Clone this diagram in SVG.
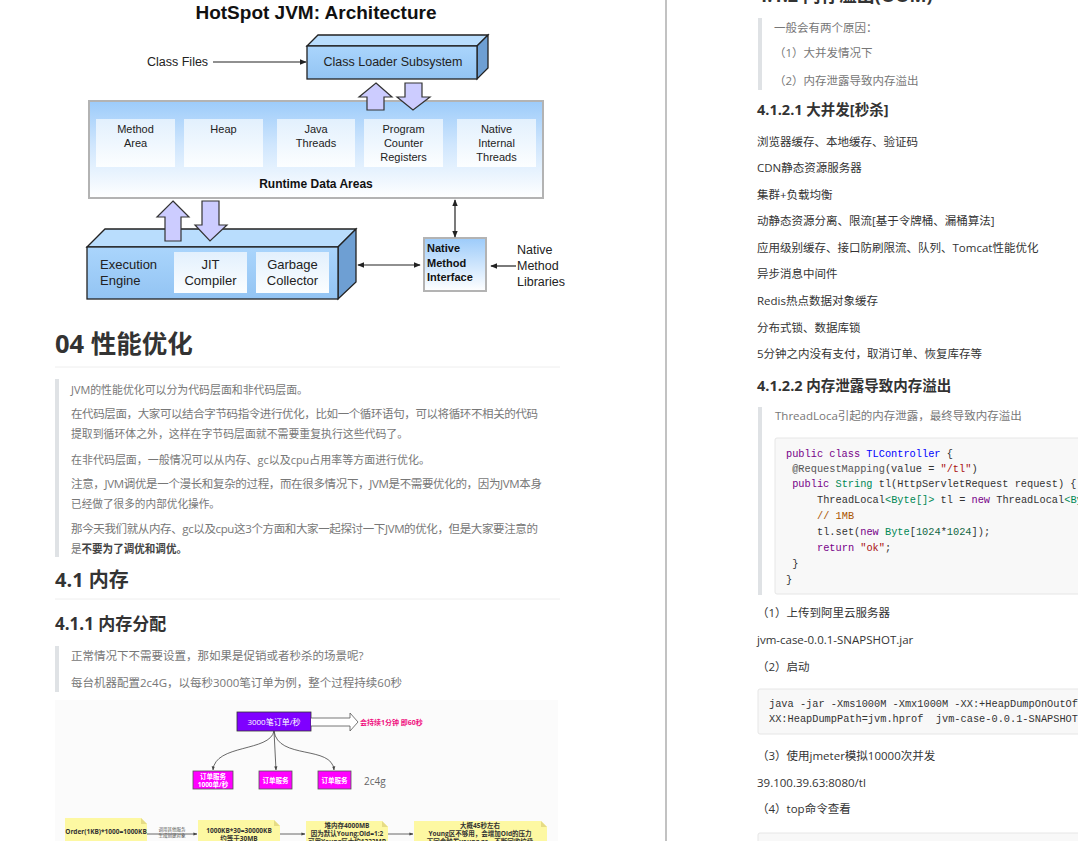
<svg xmlns="http://www.w3.org/2000/svg" width="1078" height="841" viewBox="0 0 1078 841">
<defs>
<style>
.sans{font-family:"Liberation Sans",Arial,sans-serif}
.cn{font-family:"Open Sans","Noto Sans CJK SC",sans-serif}
.mono{font-family:"Liberation Mono","DejaVu Sans Mono",monospace;font-size:10.3px;fill:#333;white-space:pre}
.h{font-weight:bold;fill:#333}
.body{font-size:11.5px;fill:#333}
.quote{font-size:11.5px;fill:#777}
.bar{fill:#dfe2e5}
.box3d{stroke:#222;stroke-width:1.3}
.hollow{fill:#ccccff;stroke:#333;stroke-width:1.2}
.ln{fill:none;stroke:#222;stroke-width:1.2}
.thin{fill:none;stroke:#444;stroke-width:0.8}
.note{fill:#fdf8a2}
.fold{fill:#e6dc85}
.nt{font-size:6.5px;fill:#333;font-weight:bold;text-anchor:middle}
.kw{fill:#708}.df{fill:#00f}.ty{fill:#085}.st{fill:#a11}.cm{fill:#a50}.mt{fill:#555}.nm{fill:#164}
</style>
<linearGradient id="front" x1="0" y1="0" x2="0" y2="1"><stop offset="0" stop-color="#aad5fc"/><stop offset="1" stop-color="#93c4f3"/></linearGradient>
<linearGradient id="rda" x1="0" y1="0" x2="0" y2="1"><stop offset="0" stop-color="#9ccbfa"/><stop offset="0.45" stop-color="#cfe6fd"/><stop offset="1" stop-color="#ffffff"/></linearGradient>
<linearGradient id="inner" x1="0" y1="0" x2="0" y2="1"><stop offset="0" stop-color="#e2f0fd"/><stop offset="1" stop-color="#fcfeff"/></linearGradient>
<linearGradient id="nmi" x1="0" y1="0" x2="0" y2="1"><stop offset="0" stop-color="#9ccbfa"/><stop offset="1" stop-color="#ffffff"/></linearGradient>
<marker id="ah" viewBox="0 0 10 10" refX="9" refY="5" markerWidth="6" markerHeight="6" orient="auto-start-reverse"><path d="M0,1 L10,5 L0,9 z" fill="#222"/></marker>
<marker id="ah2" viewBox="0 0 10 10" refX="9" refY="5" markerWidth="5" markerHeight="5" orient="auto"><path d="M0,1 L10,5 L0,9 z" fill="#444"/></marker>
<clipPath id="rc"><rect x="667" y="0" width="411" height="841"/></clipPath>
</defs>
<rect width="1078" height="841" fill="#fff"/>
<line x1="666" y1="0" x2="666" y2="841" stroke="#999" stroke-width="1.2"/>

<!-- JVM diagram -->
<g id="jvm-title"><text x="316" y="19" class="sans" font-size="19" font-weight="bold" text-anchor="middle" fill="#111">HotSpot JVM: Architecture</text></g>
<g id="class-files"><text x="147" y="66" class="sans" font-size="12.5" fill="#222">Class Files</text></g>
<g id="class-loader">
<polygon class="box3d" points="307,46 318,35 488,35 477,46" fill="#b9ddfd"/>
<polygon class="box3d" points="477,46 488,35 488,68 477,79" fill="#6e9fd3"/>
<rect class="box3d" x="307" y="46" width="170" height="33" fill="url(#front)"/>
<text x="393" y="66" class="sans" font-size="12.5" text-anchor="middle" fill="#222">Class Loader Subsystem</text>
</g>
<g id="runtime-data-areas">
<rect x="89" y="101" width="454" height="97" fill="url(#rda)" stroke="#b3b3b3" stroke-width="2"/>
<g class="sans" font-size="11" fill="#222" text-anchor="middle">
<rect x="96" y="119" width="79" height="48" fill="url(#inner)"/>
<text x="135.5" y="133">Method</text><text x="135.5" y="147">Area</text>
<rect x="184" y="119" width="79" height="48" fill="url(#inner)"/>
<text x="223.5" y="133">Heap</text>
<rect x="277" y="119" width="78" height="48" fill="url(#inner)"/>
<text x="316" y="133">Java</text><text x="316" y="147">Threads</text>
<rect x="364" y="119" width="79" height="48" fill="url(#inner)"/>
<text x="403.5" y="133">Program</text><text x="403.5" y="147">Counter</text><text x="403.5" y="161">Registers</text>
<rect x="457" y="119" width="79" height="48" fill="url(#inner)"/>
<text x="496.5" y="133">Native</text><text x="496.5" y="147">Internal</text><text x="496.5" y="161">Threads</text>
</g>
<text x="316" y="188" class="sans" font-size="12" font-weight="bold" text-anchor="middle" fill="#111">Runtime Data Areas</text>
</g>
<g id="execution-engine">
<polygon class="box3d" points="87,247 105,229 356,229 338,247" fill="#b9ddfd"/>
<polygon class="box3d" points="338,247 356,229 356,282 338,299" fill="#6e9fd3"/>
<rect class="box3d" x="87" y="247" width="251" height="52" fill="url(#front)"/>
<g class="sans" font-size="13" fill="#222">
<text x="100" y="269">Execution</text><text x="100" y="285">Engine</text>
<rect x="174" y="252" width="73" height="41" fill="url(#inner)"/>
<text x="210.5" y="269" text-anchor="middle">JIT</text><text x="210.5" y="285" text-anchor="middle">Compiler</text>
<rect x="256" y="252" width="73" height="41" fill="url(#inner)"/>
<text x="292.5" y="269" text-anchor="middle">Garbage</text><text x="292.5" y="285" text-anchor="middle">Collector</text>
</g>
</g>
<g id="native-method-interface">
<rect x="424" y="238" width="62" height="53" fill="url(#nmi)" stroke="#b3b3b3" stroke-width="2"/>
<g class="sans" font-size="11" font-weight="bold" fill="#111"><text x="427" y="252">Native</text><text x="427" y="267">Method</text><text x="427" y="281">Interface</text></g>
</g>
<g id="native-method-libraries" class="sans" font-size="12.5" fill="#222"><text x="517" y="254">Native</text><text x="517" y="270">Method</text><text x="517" y="286">Libraries</text></g>
<g id="jvm-connectors">
<line class="ln" x1="213" y1="62" x2="306" y2="62" marker-end="url(#ah)"/>
<line class="ln" x1="455" y1="200" x2="455" y2="237" marker-start="url(#ah)" marker-end="url(#ah)"/>
<line class="ln" x1="358" y1="265" x2="420" y2="265" marker-start="url(#ah)" marker-end="url(#ah)"/>
<line class="ln" x1="516" y1="266" x2="491" y2="266" marker-end="url(#ah)"/>
<polygon class="hollow" points="376,83 392,97 384,97 384,110 367,110 367,97 359,97"/>
<polygon class="hollow" points="405,83 422,83 422,97 430,97 413,110 397,97 405,97"/>
<polygon class="hollow" points="173,201 189,217 181,217 181,241 165,241 165,217 157,217"/>
<polygon class="hollow" points="202,201 219,201 219,225 227,225 210,241 195,225 202,225"/>
</g>

<!-- Left text -->
<g id="sec04" class="cn">
<text x="55" y="353" class="h" font-size="25.5">04 性能优化</text>
<line x1="55" y1="367" x2="560" y2="367" stroke="#eee" stroke-width="1"/>
<rect class="bar" x="55" y="379" width="4" height="178"/>
<text x="71" y="394" class="quote" textLength="237" lengthAdjust="spacingAndGlyphs">JVM的性能优化可以分为代码层面和非代码层面。</text>
<text x="71" y="418" class="quote" textLength="467" lengthAdjust="spacing">在代码层面，大家可以结合字节码指令进行优化，比如一个循环语句，可以将循环不相关的代码</text>
<text x="71" y="438" class="quote" textLength="337" lengthAdjust="spacingAndGlyphs">提取到循环体之外，这样在字节码层面就不需要重复执行这些代码了。</text>
<text x="71" y="464" class="quote" textLength="359" lengthAdjust="spacingAndGlyphs">在非代码层面，一般情况可以从内存、gc以及cpu占用率等方面进行优化。</text>
<text x="71" y="488" class="quote" textLength="471" lengthAdjust="spacing">注意，JVM调优是一个漫长和复杂的过程，而在很多情况下，JVM是不需要优化的，因为JVM本身</text>
<text x="71" y="508" class="quote" textLength="149" lengthAdjust="spacingAndGlyphs">已经做了很多的内部优化操作。</text>
<text x="71" y="533" class="quote" textLength="467" lengthAdjust="spacing">那今天我们就从内存、gc以及cpu这3个方面和大家一起探讨一下JVM的优化，但是大家要注意的</text>
<text x="71" y="553" class="quote" textLength="116" lengthAdjust="spacingAndGlyphs">是<tspan font-weight="bold" fill="#444">不要为了调优和调优。</tspan></text>
</g>
<g id="sec41" class="cn">
<text x="55" y="587" class="h" font-size="20">4.1 内存</text>
<line x1="55" y1="599" x2="560" y2="599" stroke="#eee" stroke-width="1"/>
<text x="55" y="630" class="h" font-size="17">4.1.1 内存分配</text>
<rect class="bar" x="55" y="646" width="4" height="46"/>
<text x="71" y="660" class="quote">正常情况下不需要设置，那如果是促销或者秒杀的场景呢?</text>
<text x="71" y="687" class="quote">每台机器配置2c4G，以每秒3000笔订单为例，整个过程持续60秒</text>
</g>

<!-- Bottom-left flow diagram -->
<rect x="55" y="700" width="503" height="141" fill="#fbfbfb"/>
<g id="orders" class="cn">
<rect x="237" y="712" width="74" height="19" fill="#7f00ff" stroke="#333" stroke-width="0.8"/>
<text x="274" y="725" font-size="8" fill="#fff" text-anchor="middle">3000笔订单/秒</text>
</g>
<g id="duration-label" class="cn"><text x="360" y="725" font-size="7" font-weight="bold" fill="#f0107f">会持续1分钟 即60秒</text></g>
<g id="svc1" class="cn">
<rect x="193" y="771" width="40" height="18" fill="#f0f" stroke="#555" stroke-width="0.8"/>
<text x="213" y="779" font-size="6.5" font-weight="bold" fill="#fff" text-anchor="middle">订单服务</text>
<text x="213" y="787" font-size="6.5" font-weight="bold" fill="#fff" text-anchor="middle">1000单/秒</text>
</g>
<g id="svc2" class="cn">
<rect x="259" y="771" width="33" height="18" fill="#f0f" stroke="#555" stroke-width="0.8"/>
<text x="275.5" y="783" font-size="6.5" font-weight="bold" fill="#fff" text-anchor="middle">订单服务</text>
</g>
<g id="svc3" class="cn">
<rect x="318" y="771" width="33" height="18" fill="#f0f" stroke="#555" stroke-width="0.8"/>
<text x="334.5" y="783" font-size="6.5" font-weight="bold" fill="#fff" text-anchor="middle">订单服务</text>
</g>
<g id="spec" class="cn"><text x="364" y="785" font-size="10" fill="#666">2c4g</text></g>
<g id="note1" class="cn">
<polygon class="note" points="65,818 141,818 147,824 147,845 65,845"/><polygon class="fold" points="141,818 147,824 141,824"/>
<text x="106" y="834" class="nt">Order(1KB)*1000=1000KB</text>
</g>
<g id="note2" class="cn">
<polygon class="note" points="198,820 274,820 280,826 280,845 198,845"/><polygon class="fold" points="274,820 280,826 274,826"/>
<text x="239" y="833" class="nt">1000KB*30=30000KB</text>
<text x="239" y="841" class="nt">约等于30MB</text>
</g>
<g id="note3" class="cn">
<polygon class="note" points="306,821 382,821 388,827 388,845 306,845"/><polygon class="fold" points="382,821 388,827 382,827"/>
<text x="347" y="828" class="nt">堆内存4000MB</text>
<text x="347" y="836" class="nt">因为默认Young:Old=1:2</text>
<text x="347" y="844" class="nt">可用Young区大约1333MB</text>
</g>
<g id="note4" class="cn">
<polygon class="note" points="414,821 541,821 547,827 547,845 414,845"/><polygon class="fold" points="541,821 547,827 541,827"/>
<text x="480" y="828" class="nt">大概45秒左右</text>
<text x="480" y="836" class="nt">Young区不够用，会增加Old的压力</text>
<text x="480" y="844" class="nt">下回会触发young gc，不断回收垃圾</text>
</g>
<g id="flow-connectors">
<path d="M311,718 L350,718 L350,713 L358,722 L350,731 L350,726 L311,726" fill="#fff" stroke="#555" stroke-width="0.8"/>
<path class="thin" d="M274,731 C270,752 215,744 213,770" marker-end="url(#ah2)"/>
<path class="thin" d="M274,731 L276,770" marker-end="url(#ah2)"/>
<path class="thin" d="M274,731 C278,760 332,745 334,770" marker-end="url(#ah2)"/>
<line class="thin" x1="147" y1="834" x2="197" y2="834" marker-end="url(#ah2)"/>
<text x="172" y="831" class="cn" font-size="4.5" fill="#555" text-anchor="middle">调用其他服务</text>
<text x="172" y="837" class="cn" font-size="4.5" fill="#555" text-anchor="middle">生成创建对象</text>
<line class="thin" x1="280" y1="834" x2="305" y2="834" marker-end="url(#ah2)"/>
<line class="thin" x1="388" y1="834" x2="413" y2="834" marker-end="url(#ah2)"/>
</g>

<!-- Right column -->
<g id="right" class="cn" clip-path="url(#rc)">
<text x="757" y="2" class="h" font-size="18">4.1.2 内存溢出(OOM)</text>
<rect class="bar" x="758" y="18" width="4" height="72"/>
<text x="774" y="32" class="quote">一般会有两个原因：</text>
<text x="774" y="57" class="quote">（1）大并发情况下</text>
<text x="774" y="85" class="quote">（2）内存泄露导致内存溢出</text>
<text x="757" y="115" class="h" font-size="14.5">4.1.2.1 大并发[秒杀]</text>
<text x="757" y="146" class="body">浏览器缓存、本地缓存、验证码</text>
<text x="757" y="172" class="body">CDN静态资源服务器</text>
<text x="757" y="199" class="body">集群+负载均衡</text>
<text x="757" y="225" class="body">动静态资源分离、限流[基于令牌桶、漏桶算法]</text>
<text x="757" y="252" class="body">应用级别缓存、接口防刷限流、队列、Tomcat性能优化</text>
<text x="757" y="278" class="body">异步消息中间件</text>
<text x="757" y="305" class="body">Redis热点数据对象缓存</text>
<text x="757" y="332" class="body">分布式锁、数据库锁</text>
<text x="757" y="358" class="body">5分钟之内没有支付，取消订单、恢复库存等</text>
<text x="757" y="391" class="h" font-size="14.5">4.1.2.2 内存泄露导致内存溢出</text>
<rect class="bar" x="758" y="407" width="4" height="188"/>
<text x="775" y="420" class="quote">ThreadLoca引起的内存泄露，最终导致内存溢出</text>
<rect x="775" y="438" width="320" height="156" rx="2" fill="#f8f8f8" stroke="#e6e6e6"/>
<text x="786" y="457" class="mono"><tspan class="kw">public</tspan> <tspan class="kw">class</tspan> <tspan class="df">TLController</tspan> {</text>
<text x="792.2" y="472" class="mono"><tspan class="mt">@RequestMapping</tspan>(value = <tspan class="st">"/tl"</tspan>)</text>
<text x="792.2" y="487" class="mono"><tspan class="kw">public</tspan> <tspan class="ty">String</tspan> tl(HttpServletRequest request) {</text>
<text x="817" y="503" class="mono">ThreadLocal<tspan class="ty">&lt;Byte[]&gt;</tspan> tl = <tspan class="kw">new</tspan> ThreadLocal<tspan class="ty">&lt;Byte[]&gt;</tspan>();</text>
<text x="817" y="519" class="mono"><tspan class="cm">// 1MB</tspan></text>
<text x="817" y="535" class="mono">tl.set(<tspan class="kw">new</tspan> <tspan class="ty">Byte</tspan>[<tspan class="nm">1024</tspan>*<tspan class="nm">1024</tspan>]);</text>
<text x="817" y="551" class="mono"><tspan class="kw">return</tspan> <tspan class="st">"ok"</tspan>;</text>
<text x="792.2" y="567" class="mono">}</text>
<text x="786" y="583" class="mono">}</text>
<text x="757" y="617" class="body">（1）上传到阿里云服务器</text>
<text x="757" y="644" class="body">jvm-case-0.0.1-SNAPSHOT.jar</text>
<text x="757" y="671" class="body">（2）启动</text>
<rect x="758" y="689" width="340" height="45" rx="2" fill="#f8f8f8" stroke="#e6e6e6"/>
<text x="769" y="707" class="mono">java -jar -Xms1000M -Xmx1000M -XX:+HeapDumpOnOutOfMemoryError -</text>
<text x="769" y="722" class="mono">XX:HeapDumpPath=jvm.hprof  jvm-case-0.0.1-SNAPSHOT.jar</text>
<text x="757" y="760" class="body">（3）使用jmeter模拟10000次并发</text>
<text x="757" y="787" class="body">39.100.39.63:8080/tl</text>
<text x="757" y="813" class="body">（4）top命令查看</text>
<rect x="758" y="833" width="340" height="20" rx="2" fill="#f8f8f8" stroke="#e6e6e6"/>
</g>
</svg>
